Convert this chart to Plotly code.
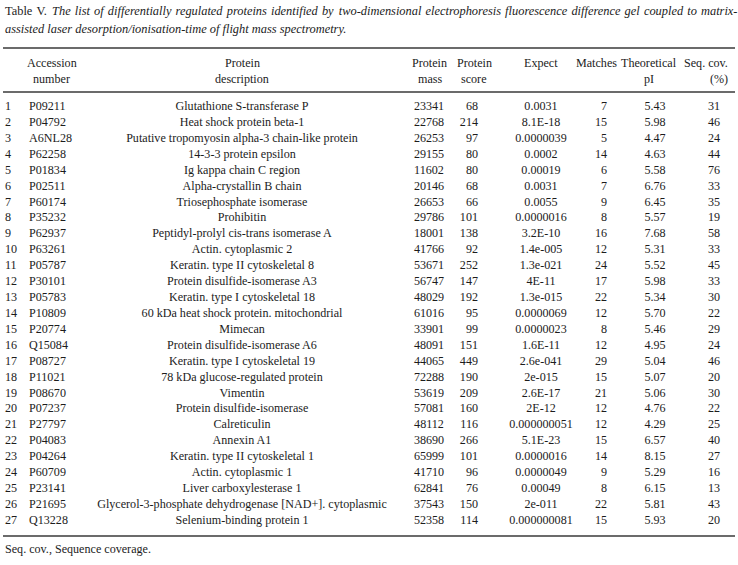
import plotly.graph_objects as go

# ---------------- data ----------------
row_no = [str(i) for i in range(1, 28)]
accession = ["P09211", "P04792", "A6NL28", "P62258", "P01834", "P02511", "P60174", "P35232",
             "P62937", "P63261", "P05787", "P30101", "P05783", "P10809", "P20774", "Q15084",
             "P08727", "P11021", "P08670", "P07237", "P27797", "P04083", "P04264", "P60709",
             "P23141", "P21695", "Q13228"]
description = ["Glutathione S-transferase P", "Heat shock protein beta-1",
               "Putative tropomyosin alpha-3 chain-like protein", "14-3-3 protein epsilon",
               "Ig kappa chain C region", "Alpha-crystallin B chain", "Triosephosphate isomerase",
               "Prohibitin", "Peptidyl-prolyl cis-trans isomerase A", "Actin. cytoplasmic 2",
               "Keratin. type II cytoskeletal 8", "Protein disulfide-isomerase A3",
               "Keratin. type I cytoskeletal 18", "60 kDa heat shock protein. mitochondrial",
               "Mimecan", "Protein disulfide-isomerase A6", "Keratin. type I cytoskeletal 19",
               "78 kDa glucose-regulated protein", "Vimentin", "Protein disulfide-isomerase",
               "Calreticulin", "Annexin A1", "Keratin. type II cytoskeletal 1",
               "Actin. cytoplasmic 1", "Liver carboxylesterase 1",
               "Glycerol-3-phosphate dehydrogenase [NAD+]. cytoplasmic", "Selenium-binding protein 1"]
protein_mass = [23341, 22768, 26253, 29155, 11602, 20146, 26653, 29786, 18001, 41766, 53671, 56747,
                48029, 61016, 33901, 48091, 44065, 72288, 53619, 57081, 48112, 38690, 65999, 41710,
                62841, 37543, 52358]
protein_score = [68, 214, 97, 80, 80, 68, 66, 101, 138, 92, 252, 147, 192, 95, 99, 151, 449, 190,
                 209, 160, 116, 266, 101, 96, 76, 150, 114]
expect = ["0.0031", "8.1E-18", "0.0000039", "0.0002", "0.00019", "0.0031", "0.0055", "0.0000016",
          "3.2E-10", "1.4e-005", "1.3e-021", "4E-11", "1.3e-015", "0.0000069", "0.0000023",
          "1.6E-11", "2.6e-041", "2e-015", "2.6E-17", "2E-12", "0.000000051", "5.1E-23",
          "0.0000016", "0.0000049", "0.00049", "2e-011", "0.000000081"]
matches = [7, 15, 5, 14, 6, 7, 9, 8, 16, 12, 24, 17, 22, 12, 8, 12, 29, 15, 21, 12, 12, 15, 14, 9,
           8, 22, 15]
theoretical_pi = ["5.43", "5.98", "4.47", "4.63", "5.58", "6.76", "6.45", "5.57", "7.68", "5.31",
                  "5.52", "5.98", "5.34", "5.70", "5.46", "4.95", "5.04", "5.07", "5.06", "4.76",
                  "4.29", "6.57", "8.15", "5.29", "6.15", "5.81", "5.93"]
seq_cov = [31, 46, 24, 44, 76, 33, 35, 19, 58, 33, 45, 33, 30, 22, 29, 24, 46, 20, 30, 22, 25, 40,
           27, 16, 13, 43, 20]

headers = [["", ""], ["Accession", "number"], ["Protein", "description"], ["Protein", "mass"],
           ["Protein", "score"], ["Expect", ""], ["Matches", ""], ["Theoretical", "pI"],
           ["Seq. cov.", "(%)"]]
title_lead = "Table V."
title_line1 = ("The list of differentially regulated proteins identified by two-dimensional "
               "electrophoresis fluorescence difference gel coupled to matrix-")
title_line2 = "assisted laser desorption/ionisation-time of flight mass spectrometry."
footnote = "Seq. cov., Sequence coverage."

# ---------------- layout constants ----------------
W, H = 738, 565
FONT = "Liberation Serif"
FS = 12.1
FS_TITLE = 12.4
INK = "#1c1c1c"
ROW1_PX, ROW_STEP = 107.0, 15.92

# column anchor (pixel x) and alignment
columns = [
    (row_no, 5, "middle right"),
    (accession, 29, "middle right"),
    (description, 242, "middle center"),
    ([str(v) for v in protein_mass], 429, "middle center"),
    ([str(v) for v in protein_score], 478, "middle left"),
    (expect, 541, "middle center"),
    ([str(v) for v in matches], 607, "middle left"),
    (theoretical_pi, 655, "middle center"),
    ([str(v) for v in seq_cov], 720, "middle left"),
]
header_x = [(5, "left"), (52, "center"), (242, "center"), (430, "center"), (474, "center"),
            (541, "center"), (596, "center"), (649, "center"), (730, "right")]
HEAD_Y = (63, 78.5)

fig = go.Figure()
rows = list(range(1, len(accession) + 1))
for vals, xpx, pos in columns:
    fig.add_trace(go.Scatter(
        x=[xpx] * len(vals), y=rows, text=vals, mode="text", textposition=pos,
        textfont=dict(family=FONT, size=FS, color=INK), hoverinfo="skip", showlegend=False))

def py(px):
    return 1 - px / H

def justified(words):
    # widen word gaps (hair spaces) to imitate the justified first title line
    out = words[0]
    for k, w in enumerate(words[1:]):
        gap = " \u200a\u200a" if k % 8 == 1 else " \u200a"
        out += gap + w
    return out

ann = []
for (lines, (xpx, anchor)) in zip(headers, header_x):
    for ln, ypx in zip(lines, HEAD_Y):
        if ln:
            ann.append(dict(x=xpx / W, y=py(ypx), xref="paper", yref="paper", text=ln,
                            xanchor=anchor, yanchor="middle", showarrow=False,
                            font=dict(family=FONT, size=FS, color=INK)))
lead_words = title_lead.split(" ")
body_words = title_line1.split(" ")
line1 = justified(lead_words + ["<i>" + body_words[0]] + body_words[1:-1] + [body_words[-1] + "</i>"])
ann.append(dict(x=3 / W, y=py(11), xref="paper", yref="paper", text=line1,
                xanchor="left", yanchor="middle", showarrow=False,
                font=dict(family=FONT, size=FS_TITLE, color=INK)))
ann.append(dict(x=3 / W, y=py(29), xref="paper", yref="paper", text="<i>" + title_line2 + "</i>",
                xanchor="left", yanchor="middle", showarrow=False,
                font=dict(family=FONT, size=FS_TITLE, color=INK)))
ann.append(dict(x=3 / W, y=py(549), xref="paper", yref="paper", text=footnote, xanchor="left",
                yanchor="middle", showarrow=False, font=dict(family=FONT, size=FS, color=INK)))

shapes = []
for ypx in (48, 92, 536):
    shapes.append(dict(type="line", xref="paper", yref="paper", x0=3 / W, x1=735 / W,
                       y0=py(ypx), y1=py(ypx), line=dict(color="#3a3a3a", width=1.3)))

ytop = 1 - ROW1_PX / ROW_STEP
ybot = 1 + (H - ROW1_PX) / ROW_STEP
fig.update_layout(
    width=W, height=H, margin=dict(l=0, r=0, t=0, b=0), paper_bgcolor="white",
    plot_bgcolor="white", annotations=ann, shapes=shapes,
    xaxis=dict(range=[0, W], visible=False, fixedrange=True),
    yaxis=dict(range=[ybot, ytop], visible=False, fixedrange=True),
)
fig.write_html("out.html", config={"displayModeBar": False, "staticPlot": True},
               post_script="document.body.style.margin='0';document.body.style.overflow='hidden';")
